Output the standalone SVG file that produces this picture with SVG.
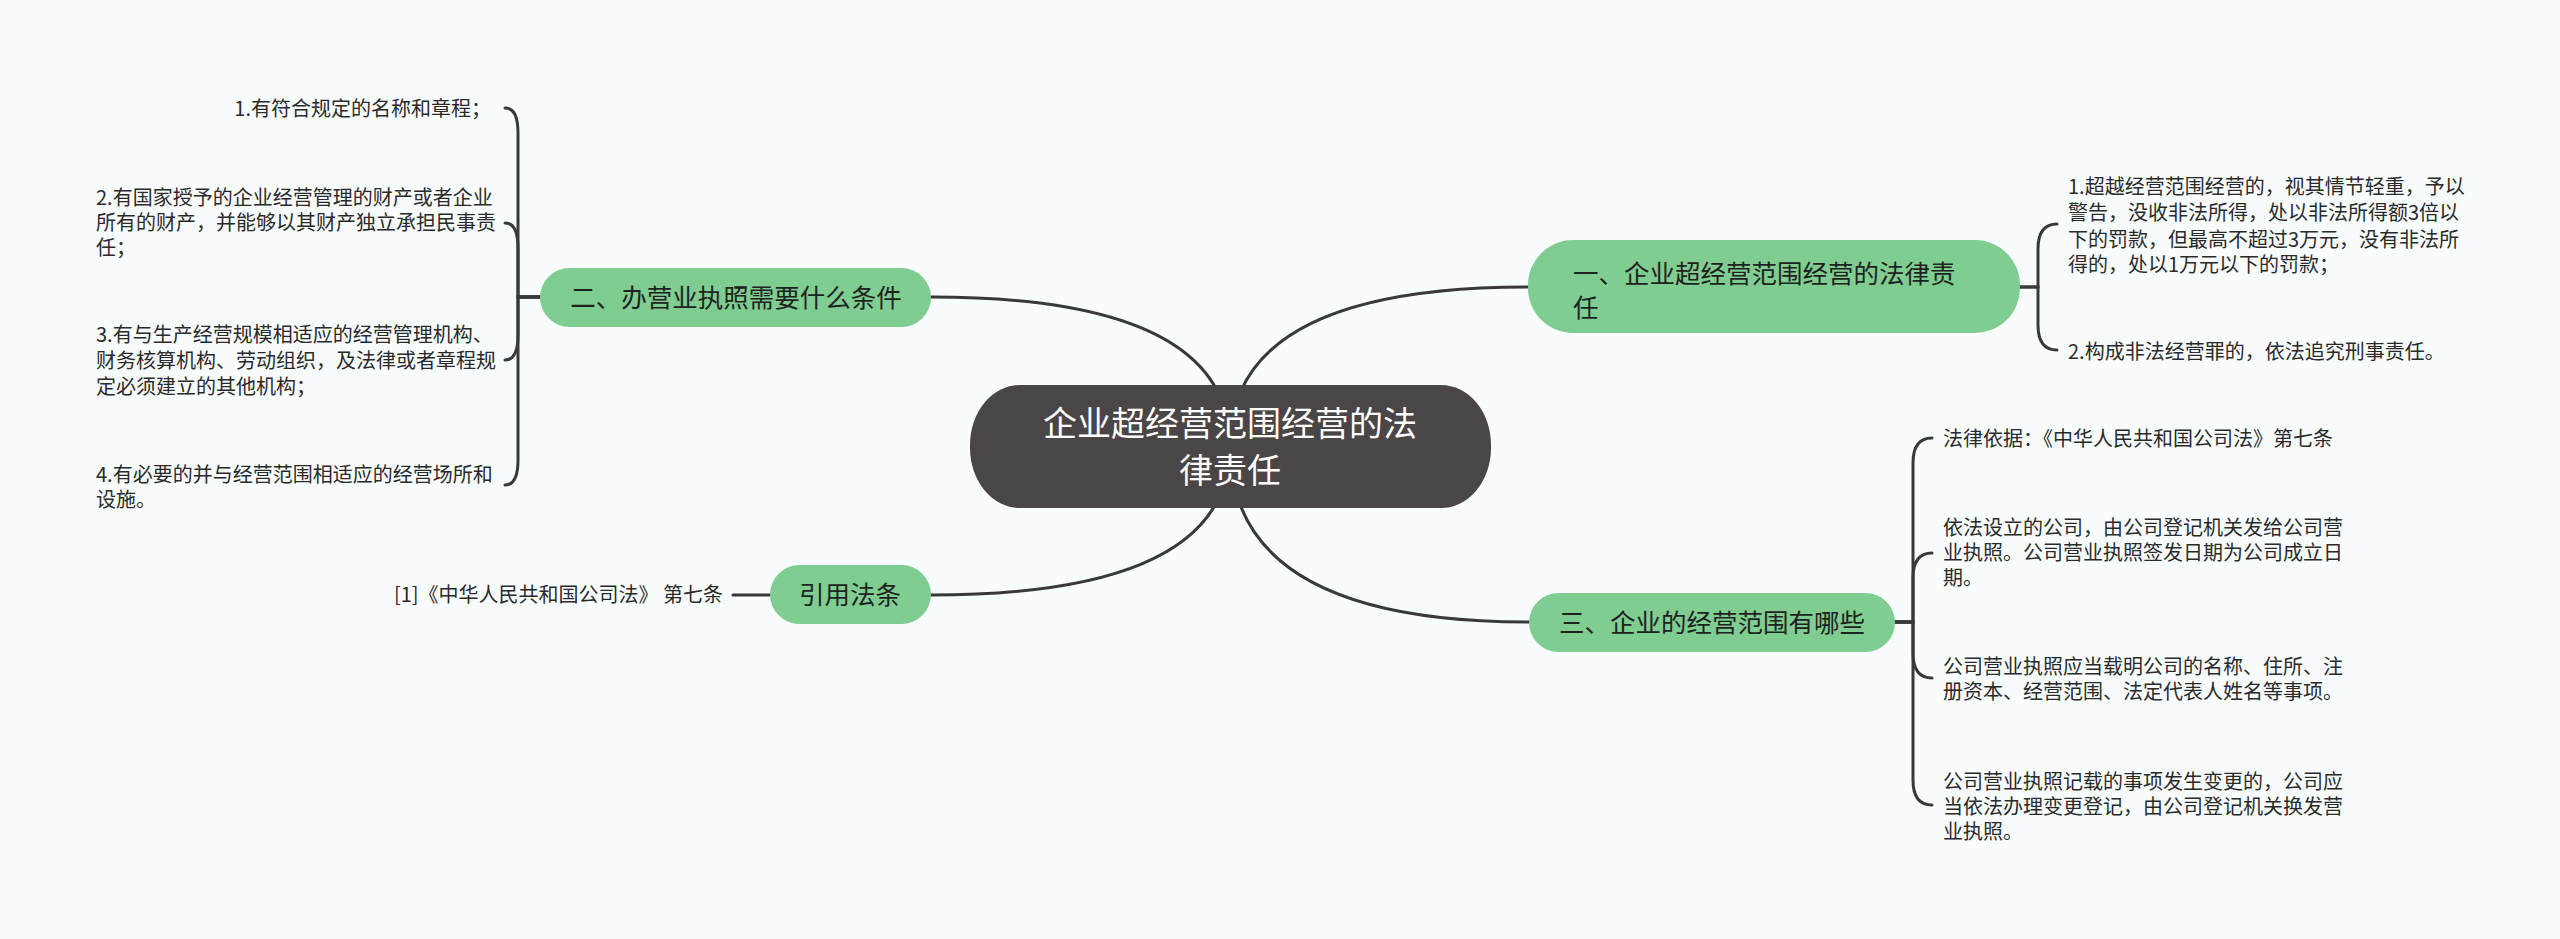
<svg xmlns="http://www.w3.org/2000/svg" width="2560" height="939" viewBox="0 0 2560 939">
<style>
.bg{fill:#f8fcfd}
.edge{fill:none;stroke:#3b3839;stroke-width:3;stroke-linecap:round}
.root{fill:#4a4546}
.main{fill:#7fcd91}
.t{font-family:"Noto Sans CJK SC","Liberation Sans",sans-serif}
.rt{font-size:34px;fill:#ffffff;text-anchor:middle}
.mt{font-size:25.5px;fill:#1e231f}
.lt{font-size:20px;fill:#2a2a2a}
</style>
<rect class="bg" x="0" y="0" width="2560" height="939"/>
<g id="connectors">
<path class="edge" d="M1230 446 Q1230 297 931 297"/>
<path class="edge" d="M1230 446 Q1230 287 1528 287"/>
<path class="edge" d="M1230 446 Q1230 595 931 595"/>
<path class="edge" d="M1230 446 Q1230 622 1529 622"/>
<path class="edge" d="M770 595 L733 595"/>
<path class="edge" d="M540 297 H518 V133 Q518 108 505 108"/>
<path class="edge" d="M540 297 H518 V248 Q518 223 505 223"/>
<path class="edge" d="M540 297 H518 V335 Q518 360 505 360"/>
<path class="edge" d="M540 297 H518 V460 Q518 485 505 485"/>
<path class="edge" d="M2020 287 H2038 V249 Q2038 224 2057 224"/>
<path class="edge" d="M2020 287 H2038 V325 Q2038 350 2057 350"/>
<path class="edge" d="M1895 622 H1913 V463 Q1913 438 1932 438"/>
<path class="edge" d="M1895 622 H1913 V578 Q1913 553 1932 553"/>
<path class="edge" d="M1895 622 H1913 V653 Q1913 678 1932 678"/>
<path class="edge" d="M1895 622 H1913 V780 Q1913 805 1932 805"/>
</g>
<g id="root">
<rect class="root" x="970" y="385" width="521" height="123" rx="50" ry="60"/>
<text class="t rt" x="1230" y="436">企业超经营范围经营的法</text>
<text class="t rt" x="1230" y="483">律责任</text>
</g>
<g id="n1">
<rect class="main" x="1528" y="240" width="492" height="93" rx="45" ry="45"/>
<text class="t mt" x="1573" y="283">一、企业超经营范围经营的法律责</text>
<text class="t mt" x="1573" y="317">任</text>
</g>
<g id="n2">
<rect class="main" x="540" y="268" width="391" height="59" rx="29.5" ry="29.5"/>
<text class="t mt" x="736" y="307" text-anchor="middle">二、办营业执照需要什么条件</text>
</g>
<g id="n3">
<rect class="main" x="1529" y="593" width="366" height="59" rx="29.5" ry="29.5"/>
<text class="t mt" x="1712" y="632" text-anchor="middle">三、企业的经营范围有哪些</text>
</g>
<g id="n4">
<rect class="main" x="770" y="565" width="161" height="59" rx="29.5" ry="29.5"/>
<text class="t mt" x="850" y="604" text-anchor="middle">引用法条</text>
</g>
<g id="n1c1">
<text class="t lt" x="2068" y="194">1.超越经营范围经营的，视其情节轻重，予以</text>
<text class="t lt" x="2068" y="220">警告，没收非法所得，处以非法所得额3倍以</text>
<text class="t lt" x="2068" y="247">下的罚款，但最高不超过3万元，没有非法所</text>
<text class="t lt" x="2068" y="272">得的，处以1万元以下的罚款；</text>
</g>
<g id="n1c2">
<text class="t lt" x="2068" y="359">2.构成非法经营罪的，依法追究刑事责任。</text>
</g>
<g id="n2c1">
<text class="t lt" x="491" y="116" text-anchor="end">1.有符合规定的名称和章程；</text>
</g>
<g id="n2c2">
<text class="t lt" x="96" y="205">2.有国家授予的企业经营管理的财产或者企业</text>
<text class="t lt" x="96" y="230">所有的财产，并能够以其财产独立承担民事责</text>
<text class="t lt" x="96" y="255">任；</text>
</g>
<g id="n2c3">
<text class="t lt" x="96" y="342">3.有与生产经营规模相适应的经营管理机构、</text>
<text class="t lt" x="96" y="368">财务核算机构、劳动组织，及法律或者章程规</text>
<text class="t lt" x="96" y="394">定必须建立的其他机构；</text>
</g>
<g id="n2c4">
<text class="t lt" x="96" y="482">4.有必要的并与经营范围相适应的经营场所和</text>
<text class="t lt" x="96" y="507">设施。</text>
</g>
<g id="n3c1">
<text class="t lt" x="1943" y="446">法律依据：《中华人民共和国公司法》第七条</text>
</g>
<g id="n3c2">
<text class="t lt" x="1943" y="535">依法设立的公司，由公司登记机关发给公司营</text>
<text class="t lt" x="1943" y="560">业执照。公司营业执照签发日期为公司成立日</text>
<text class="t lt" x="1943" y="585">期。</text>
</g>
<g id="n3c3">
<text class="t lt" x="1943" y="674">公司营业执照应当载明公司的名称、住所、注</text>
<text class="t lt" x="1943" y="699">册资本、经营范围、法定代表人姓名等事项。</text>
</g>
<g id="n3c4">
<text class="t lt" x="1943" y="789">公司营业执照记载的事项发生变更的，公司应</text>
<text class="t lt" x="1943" y="814">当依法办理变更登记，由公司登记机关换发营</text>
<text class="t lt" x="1943" y="839">业执照。</text>
</g>
<g id="n4c1">
<text class="t lt" x="723" y="602" text-anchor="end">[1]《中华人民共和国公司法》 第七条</text>
</g>
</svg>
